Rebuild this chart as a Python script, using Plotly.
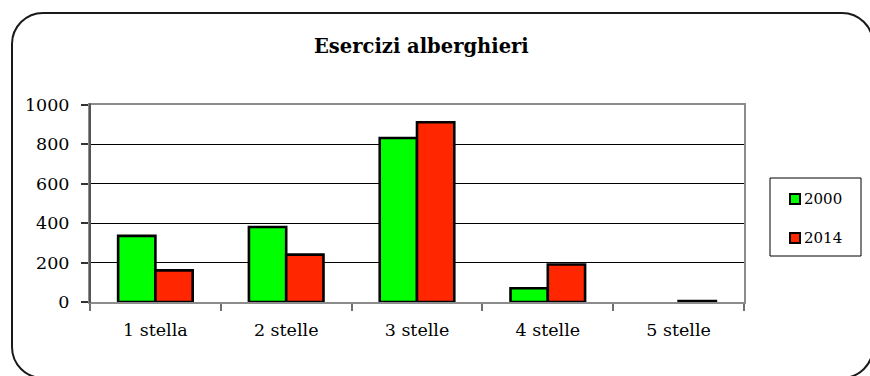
import plotly.graph_objects as go

# Hotel establishments by star rating, 2000 vs 2014
categories = ["1 stella", "2 stelle", "3 stelle", "4 stelle", "5 stelle"]
series_names = ["2000", "2014"]
values_2000 = [335, 380, 830, 70, 0]
values_2014 = [160, 240, 910, 190, 5]
y_ticks = [0, 200, 400, 600, 800, 1000]

colors = ["#00FF00", "#FF2600"]
W, H = 870, 376
FONT = "DejaVu Serif"


def px(x):
    return x / W


def py(y):
    return 1 - y / H


fig = go.Figure()
for name, vals, col in zip(series_names, [values_2000, values_2014], colors):
    # zero-height bars get no outline
    widths = [2.6 if v else 0 for v in vals]
    fig.add_trace(go.Bar(
        x=categories, y=vals, name=name,
        marker=dict(color=col, line=dict(color="black", width=widths)),
        showlegend=False,
    ))

# plot area placement (pixels)
L, R, T, B = 90, 744, 104.5, 302

fig.update_layout(
    width=W, height=H,
    margin=dict(l=0, r=0, t=0, b=0, pad=0, autoexpand=False),
    paper_bgcolor="white", plot_bgcolor="white",
    barmode="group", bargap=0.43, bargroupgap=0,
    font=dict(family=FONT, color="black"),
    template="none",
    xaxis=dict(
        domain=[px(L), px(R)], automargin=False,
        showline=True, linecolor="#8c8c8c", linewidth=2, mirror=True,
        ticks="outside", ticklen=7, tickcolor="#707070", tickwidth=1.5,
        tickson="boundaries", showgrid=False,
        tickfont=dict(size=17.5, family=FONT, color="black"),
        ticklabelstandoff=11,
    ),
    yaxis=dict(
        domain=[py(B), py(T)], automargin=False,
        range=[0, 1000], tickvals=y_ticks,
        showline=True, linecolor="#8c8c8c", linewidth=2, mirror=True,
        ticks="outside", ticklen=7, tickcolor="#333333", tickwidth=1.5,
        showgrid=True, gridcolor="black", gridwidth=1,
        zeroline=False,
        tickfont=dict(size=17.5, family=FONT, color="black"),
        ticklabelstandoff=8,
    ),
)

# left axis drawn darker than the frame
fig.add_shape(type="line", xref="paper", yref="paper",
              x0=px(L), x1=px(L), y0=py(B + 1), y1=py(T - 1),
              line=dict(color="#555555", width=2))

# outer rounded frame
x0, y0, x1, y1, r = 12, 13, 873, 378, 31
k = 0.5523 * r
pts = [
    f"M{px(x0)},{py(y0 + r)}",
    f"C{px(x0)},{py(y0 + r - k)} {px(x0 + r - k)},{py(y0)} {px(x0 + r)},{py(y0)}",
    f"L{px(x1 - r)},{py(y0)}",
    f"C{px(x1 - r + k)},{py(y0)} {px(x1)},{py(y0 + r - k)} {px(x1)},{py(y0 + r)}",
    f"L{px(x1)},{py(y1 - r)}",
    f"C{px(x1)},{py(y1 - r + k)} {px(x1 - r + k)},{py(y1)} {px(x1 - r)},{py(y1)}",
    f"L{px(x0 + r)},{py(y1)}",
    f"C{px(x0 + r - k)},{py(y1)} {px(x0)},{py(y1 - r + k)} {px(x0)},{py(y1 - r)}",
    "Z",
]
fig.add_shape(type="path", xref="paper", yref="paper", path=" ".join(pts),
              line=dict(color="#1a1a1a", width=2))

# title
fig.add_annotation(text="<b>Esercizi alberghieri</b>", xref="paper", yref="paper",
                   x=px(421.5), y=py(46), xanchor="center", yanchor="middle",
                   showarrow=False, font=dict(size=19.5, family=FONT, color="black"))

# legend box
fig.add_shape(type="rect", xref="paper", yref="paper",
              x0=px(770), x1=px(861), y0=py(256), y1=py(178),
              line=dict(color="black", width=1), fillcolor="white")
for i, (name, col) in enumerate(zip(series_names, colors)):
    cy = 199 + i * 39
    fig.add_shape(type="rect", xref="paper", yref="paper",
                  x0=px(790), x1=px(800), y0=py(cy + 5), y1=py(cy - 5),
                  line=dict(color="black", width=2), fillcolor=col)
    fig.add_annotation(text=name, xref="paper", yref="paper",
                       x=px(802), y=py(cy), xanchor="left", yanchor="middle",
                       showarrow=False, font=dict(size=15, family=FONT, color="black"))

fig.write_html("out.html")
